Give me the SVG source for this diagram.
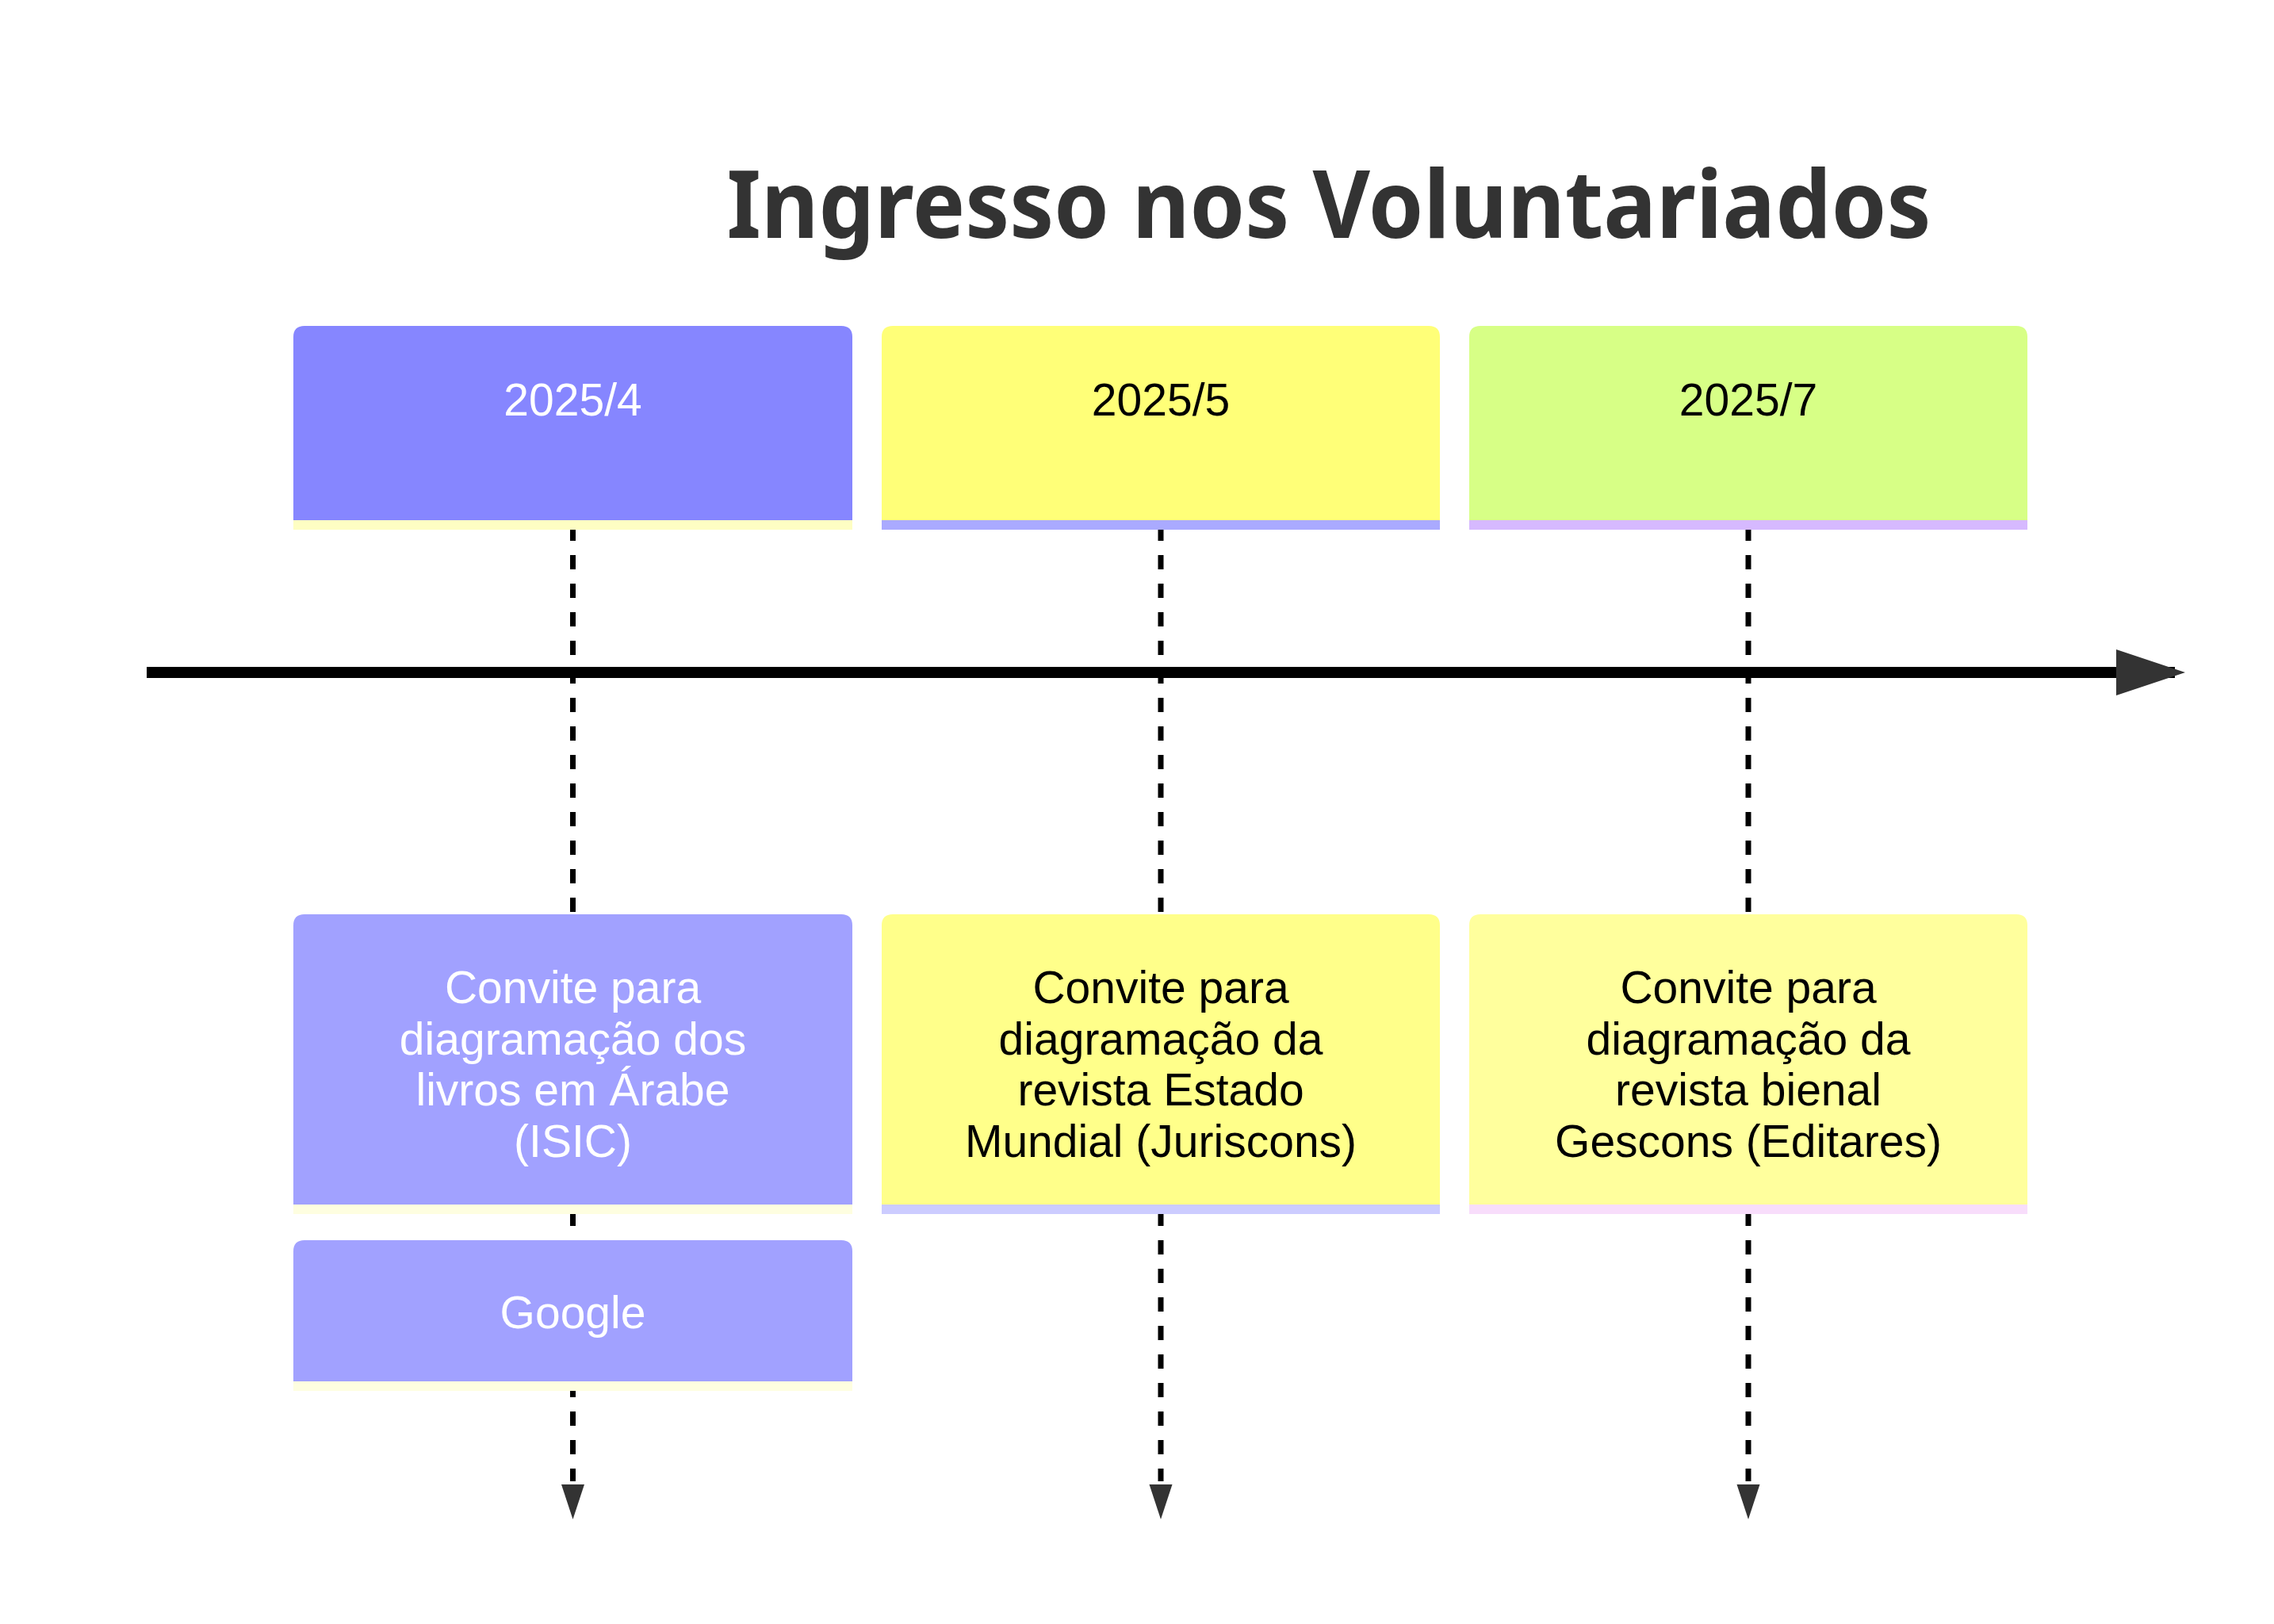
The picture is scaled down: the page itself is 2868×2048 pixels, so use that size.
<svg xmlns="http://www.w3.org/2000/svg" width="2868" height="2048" viewBox="0 0 2868 2048">
<defs>
<style>
text{font-family:"Liberation Sans","Noto Sans",sans-serif;text-anchor:middle}
.t{font-size:57px}
.w{fill:#ffffff}
.k{fill:#000000}
.title{font-family:"Noto Sans","DejaVu Sans",sans-serif;font-size:118px;font-weight:bold;fill:#333333}
.dash{stroke:#000;stroke-width:7;stroke-dasharray:18 18;fill:none}
.stripe{stroke-width:12}
.head{fill:#333333}
</style>
</defs>
<rect width="2868" height="2048" fill="#ffffff"/>
<text class="title" x="1676" y="300" textLength="1519" lengthAdjust="spacingAndGlyphs">Ingresso nos Voluntariados</text>
<g id="connectors">
<line class="dash" x1="722.5" y1="664" x2="722.5" y2="1868"/>
<line class="dash" x1="1464" y1="664" x2="1464" y2="1868"/>
<line class="dash" x1="2205" y1="664" x2="2205" y2="1868"/>
<polygon class="head" points="708,1872 737,1872 722.5,1916"/>
<polygon class="head" points="1449.5,1872 1478.5,1872 1464,1916"/>
<polygon class="head" points="2190.5,1872 2219.5,1872 2205,1916"/>
<line x1="185" y1="848" x2="2743" y2="848" stroke="#000" stroke-width="14"/>
<polygon class="head" points="2669,819 2756,848 2669,877"/>
</g>
<g id="period-1">
<path d="M370,656 V425 Q370,411 384,411 H1061 Q1075,411 1075,425 V656 Z" fill="#8686ff"/>
<line class="stripe" x1="370" y1="662" x2="1075" y2="662" stroke="#fefec3"/>
<text class="t w" x="722.5" y="524">2025/4</text>
</g>
<g id="period-2">
<path d="M1112,656 V425 Q1112,411 1126,411 H1802 Q1816,411 1816,425 V656 Z" fill="#ffff78"/>
<line class="stripe" x1="1112" y1="662" x2="1816" y2="662" stroke="#aaaaff"/>
<text class="t k" x="1464" y="524">2025/5</text>
</g>
<g id="period-3">
<path d="M1853,656 V425 Q1853,411 1867,411 H2543 Q2557,411 2557,425 V656 Z" fill="#d7ff86"/>
<line class="stripe" x1="1853" y1="662" x2="2557" y2="662" stroke="#d6b9ff"/>
<text class="t k" x="2205" y="524">2025/7</text>
</g>
<g id="event-1">
<path d="M370,1519 V1167 Q370,1153 384,1153 H1061 Q1075,1153 1075,1167 V1519 Z" fill="#a1a1ff"/>
<line class="stripe" x1="370" y1="1525" x2="1075" y2="1525" stroke="#fefee0"/>
<text class="t w" x="722.5" y="1265">Convite para</text>
<text class="t w" x="722.5" y="1330">diagramação dos</text>
<text class="t w" x="722.5" y="1394">livros em Árabe</text>
<text class="t w" x="722.5" y="1459">(ISIC)</text>
</g>
<g id="event-1b">
<path d="M370,1742 V1578 Q370,1564 384,1564 H1061 Q1075,1564 1075,1578 V1742 Z" fill="#a1a1ff"/>
<line class="stripe" x1="370" y1="1748" x2="1075" y2="1748" stroke="#fefee0"/>
<text class="t w" x="722.5" y="1675">Google</text>
</g>
<g id="event-2">
<path d="M1112,1519 V1167 Q1112,1153 1126,1153 H1802 Q1816,1153 1816,1167 V1519 Z" fill="#ffff8a"/>
<line class="stripe" x1="1112" y1="1525" x2="1816" y2="1525" stroke="#ccccff"/>
<text class="t k" x="1464" y="1265">Convite para</text>
<text class="t k" x="1464" y="1330">diagramação da</text>
<text class="t k" x="1464" y="1394">revista Estado</text>
<text class="t k" x="1464" y="1459">Mundial (Juriscons)</text>
</g>
<g id="event-3">
<path d="M1853,1519 V1167 Q1853,1153 1867,1153 H2543 Q2557,1153 2557,1167 V1519 Z" fill="#ffff9d"/>
<line class="stripe" x1="1853" y1="1525" x2="2557" y2="1525" stroke="#f8ddfb"/>
<text class="t k" x="2205" y="1265">Convite para</text>
<text class="t k" x="2205" y="1330">diagramação da</text>
<text class="t k" x="2205" y="1394">revista bienal</text>
<text class="t k" x="2205" y="1459">Gescons (Editares)</text>
</g>
</svg>
